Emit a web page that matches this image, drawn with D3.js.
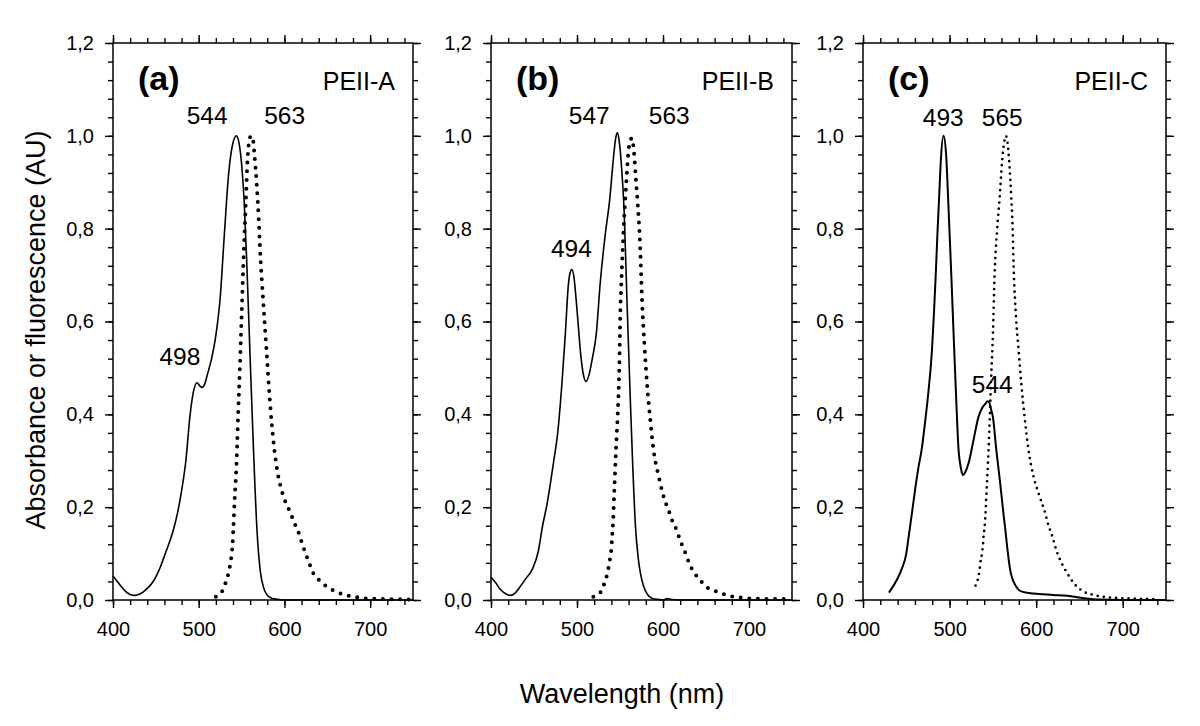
<!DOCTYPE html>
<html>
<head>
<meta charset="utf-8">
<script src="https://cdn.jsdelivr.net/npm/d3@7"></script>
<style>
  html, body { margin: 0; padding: 0; background: #fff; }
  svg text { font-family: "Liberation Sans", Arial, Helvetica, sans-serif; fill: #000; }
</style>
</head>
<body>
<svg id="chart" width="1200" height="726"></svg>
<script>
// ---------------- DATA ----------------
const panelLetters = ["(a)", "(b)", "(c)"];
const panelNames = ["PEII-A", "PEII-B", "PEII-C"];
const xMajorTicks = [400, 500, 600, 700];
const yMajorTicks = [0, 0.2, 0.4, 0.6, 0.8, 1.0, 1.2];
const xTitle = "Wavelength (nm)";
const yTitle = "Absorbance or fluorescence (AU)";

// Absorbance (solid) and fluorescence emission (dotted): [wavelength nm, value]
const absA = [[400,0.052],[405,0.040],[410,0.028],[415,0.018],[420,0.012],[425,0.010],[430,0.012],[435,0.017],[440,0.025],[445,0.035],[450,0.050],[455,0.070],[460,0.095],[465,0.120],[470,0.148],[475,0.185],[480,0.235],[485,0.300],[490,0.400],[494,0.450],[498,0.468],[501,0.462],[504,0.458],[507,0.465],[510,0.485],[515,0.520],[520,0.570],[525,0.650],[530,0.790],[535,0.920],[540,0.985],[544,1.000],[547,0.985],[550,0.940],[553,0.860],[556,0.730],[560,0.520],[564,0.320],[568,0.150],[572,0.060],[576,0.025],[580,0.010],[585,0.004],[590,0.002],[600,0.000],[650,0.000],[700,0.000],[750,0.000]];
const emA = [[520,0.007],[528,0.021],[532,0.041],[535,0.060],[537,0.080],[538.5,0.100],[539.5,0.120],[540.3,0.150],[542,0.220],[544,0.290],[546,0.400],[548,0.500],[550,0.610],[552,0.720],[555,0.860],[557,0.950],[559,0.990],[561,1.000],[563,0.995],[565,0.960],[567.5,0.900],[570,0.820],[572,0.740],[575,0.650],[579,0.540],[583,0.430],[587,0.345],[592,0.275],[598,0.228],[606,0.192],[614,0.156],[618,0.138],[621,0.119],[625,0.099],[629,0.079],[633,0.060],[641,0.042],[651,0.027],[660,0.018],[671,0.011],[682,0.007],[691,0.004],[702,0.003],[720,0.002],[745,0.001]];

const absB = [[400,0.049],[405,0.038],[410,0.025],[415,0.016],[420,0.011],[423,0.010],[428,0.015],[434,0.029],[440,0.045],[448,0.066],[455,0.105],[460,0.160],[465,0.205],[469,0.250],[473,0.300],[477.5,0.359],[482.5,0.467],[486.5,0.575],[490,0.680],[492,0.705],[494,0.712],[496.5,0.695],[499,0.647],[502,0.580],[504,0.535],[507,0.490],[510.5,0.471],[514,0.485],[517.5,0.517],[522.5,0.575],[527,0.683],[533,0.790],[538,0.862],[542,0.945],[545,0.995],[547,1.007],[549,0.990],[551.5,0.940],[555,0.830],[558,0.650],[562,0.431],[565,0.280],[568,0.158],[571.5,0.086],[577.5,0.029],[582,0.012],[587,0.004],[595,0.001],[600,0.000],[605,0.003],[610,0.001],[620,0.000],[750,0.000]];
const emB = [[519,0.007],[528,0.018],[532,0.037],[535,0.055],[537,0.073],[538.7,0.093],[540,0.111],[541,0.140],[542,0.170],[543.4,0.237],[545.3,0.323],[547.2,0.395],[549.2,0.503],[550.3,0.611],[552.3,0.718],[554.2,0.800],[556,0.860],[557.5,0.905],[560,0.970],[562,0.990],[564,0.995],[566,0.970],[568.5,0.905],[570.8,0.848],[573.6,0.754],[575.6,0.647],[578.3,0.553],[581.4,0.467],[585.2,0.388],[589,0.323],[595,0.266],[600.7,0.223],[607.7,0.187],[613,0.160],[616,0.151],[619,0.133],[623,0.115],[627,0.097],[630.5,0.079],[636,0.060],[644,0.041],[653,0.025],[663,0.018],[673,0.011],[683,0.007],[692,0.005],[702,0.003],[745,0.002]];

const absC = [[430,0.016],[439,0.043],[445,0.068],[450,0.100],[453,0.140],[456,0.180],[460,0.235],[464,0.285],[468,0.327],[471,0.372],[474.6,0.431],[479.7,0.539],[482,0.620],[484,0.700],[486,0.790],[488,0.870],[490,0.950],[493,1.000],[496,0.960],[498,0.880],[500,0.790],[502,0.700],[504.6,0.575],[507.7,0.431],[510.4,0.323],[513,0.285],[515.5,0.269],[518,0.275],[522,0.295],[527.7,0.345],[533.5,0.395],[538,0.415],[541,0.422],[544,0.428],[546,0.425],[548,0.410],[550,0.395],[554,0.323],[558.5,0.251],[562,0.190],[564.5,0.150],[566.5,0.115],[570,0.065],[576,0.032],[583.5,0.018],[597,0.014],[620,0.011],[636,0.009],[655,0.004],[674,0.001],[700,0.000],[750,0.000]];
const emC = [[530,0.031],[532.5,0.043],[534.3,0.060],[535.5,0.079],[537.4,0.100],[538.5,0.118],[539.2,0.136],[540.4,0.156],[543.2,0.251],[545.8,0.359],[547.8,0.467],[550.1,0.575],[552,0.700],[555,0.800],[558,0.870],[560.5,0.941],[563,0.985],[565,1.000],[567,0.985],[569,0.941],[571.2,0.870],[572.5,0.820],[574,0.718],[576.7,0.611],[579.7,0.539],[582.8,0.467],[586.6,0.395],[591.2,0.323],[597,0.266],[604,0.223],[610.5,0.187],[614,0.162],[618.2,0.140],[623.2,0.108],[627.8,0.086],[633.6,0.065],[639.4,0.047],[647,0.029],[655,0.018],[666,0.011],[682,0.006],[697,0.004],[712,0.003],[741,0.002]];

// Peak labels: [text, wavelength anchor, value anchor]
const peaksA = [["544", 509.8, 1.026], ["563", 600.3, 1.026], ["498", 478, 0.507]];
const peaksB = [["547", 514.3, 1.026], ["563", 607.3, 1.026], ["494", 493.4, 0.740]];
const peaksC = [["493", 492.7, 1.021], ["565", 560.9, 1.021], ["544", 549.3, 0.446]];

// ---------------- LAYOUT ----------------
const svg = d3.select("#chart");
const plotTop = 43, plotBottom = 600;
const panels = [
  { l: 113, r: 413, abs: absA, em: emA, peaks: peaksA, dot: { w: 4, gap: 8.6 }, lw: 1.6 },
  { l: 491, r: 792, abs: absB, em: emB, peaks: peaksB, dot: { w: 4, gap: 8.6 }, lw: 1.6 },
  { l: 863, r: 1166, abs: absC, em: emC, peaks: peaksC, dot: { w: 2.7, gap: 6.2 }, lw: 2.0 }
];
const fmt = v => d3.format(".1f")(v).replace(".", ",");
const xMinor = d3.range(400, 750, 20);
const yMinor = d3.range(0, 1.2001, 0.04);

panels.forEach((p, i) => {
  const w = p.r - p.l;
  const g = svg.append("g").attr("transform", `translate(${p.l},0)`);
  const x = d3.scaleLinear().domain([400, 750]).range([0, w]);
  const y = d3.scaleLinear().domain([0, 1.2]).range([plotBottom, plotTop]);

  const styleAxis = sel => {
    sel.select(".domain").remove();
    sel.selectAll("line").attr("stroke", "#000").attr("stroke-width", 1.4);
    sel.selectAll("text").style("font-size", "20px").attr("fill", "#000");
  };

  // bottom
  g.append("g").attr("transform", `translate(0,${plotBottom})`)
    .call(d3.axisBottom(x).tickValues(xMinor).tickSize(5).tickFormat("")).call(styleAxis);
  g.append("g").attr("transform", `translate(0,${plotBottom})`)
    .call(d3.axisBottom(x).tickValues(xMajorTicks).tickSize(8).tickPadding(14).tickFormat(d3.format("d"))).call(styleAxis);
  // top
  g.append("g").attr("transform", `translate(0,${plotTop})`)
    .call(d3.axisTop(x).tickValues(xMinor).tickSize(5).tickFormat("")).call(styleAxis);
  g.append("g").attr("transform", `translate(0,${plotTop})`)
    .call(d3.axisTop(x).tickValues(xMajorTicks).tickSize(8).tickFormat("")).call(styleAxis);
  // left
  g.append("g")
    .call(d3.axisLeft(y).tickValues(yMinor).tickSize(5).tickFormat("")).call(styleAxis);
  g.append("g")
    .call(d3.axisLeft(y).tickValues(yMajorTicks).tickSize(8).tickPadding(11).tickFormat(fmt)).call(styleAxis);
  // right
  g.append("g").attr("transform", `translate(${w},0)`)
    .call(d3.axisRight(y).tickValues(yMinor).tickSize(5).tickFormat("")).call(styleAxis);
  g.append("g").attr("transform", `translate(${w},0)`)
    .call(d3.axisRight(y).tickValues(yMajorTicks).tickSize(8).tickFormat("")).call(styleAxis);

  // frame
  g.append("rect").attr("x", 0).attr("y", plotTop).attr("width", w).attr("height", plotBottom - plotTop)
    .attr("fill", "none").attr("stroke", "#000").attr("stroke-width", 1.5);

  const line = d3.line().x(d => x(d[0])).y(d => y(d[1])).curve(d3.curveMonotoneX);

  g.append("path").datum(p.abs).attr("d", line)
    .attr("fill", "none").attr("stroke", "#000").attr("stroke-width", p.lw).attr("stroke-linejoin", "round");
  g.append("path").datum(p.em).attr("d", line)
    .attr("fill", "none").attr("stroke", "#000").attr("stroke-width", p.dot.w)
    .attr("stroke-linecap", "round").attr("stroke-dasharray", `0 ${p.dot.gap}`);

  // panel letter and name
  g.append("text").attr("x", 25).attr("y", plotTop + 47).text(panelLetters[i])
    .style("font-size", "34px").style("font-weight", "bold");
  g.append("text").attr("x", w - 18).attr("y", plotTop + 47).attr("text-anchor", "end")
    .text(panelNames[i]).style("font-size", "25px");

  // peak labels
  p.peaks.forEach(pk => {
    g.append("text").attr("x", x(pk[1])).attr("y", y(pk[2])).attr("text-anchor", "middle")
      .text(pk[0]).style("font-size", "24.5px");
  });
});

// axis titles
svg.append("text").attr("x", 622).attr("y", 703).attr("text-anchor", "middle")
  .text(xTitle).style("font-size", "27px");
svg.append("text").attr("transform", "translate(45,330) rotate(-90)").attr("text-anchor", "middle")
  .text(yTitle).style("font-size", "27px");
</script>
</body>
</html>
